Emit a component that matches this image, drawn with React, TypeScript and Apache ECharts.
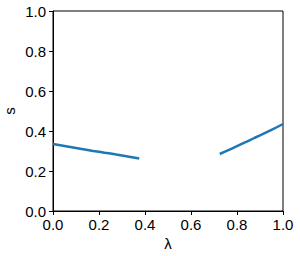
import React, { useEffect, useRef } from "react";
import * as echarts from "echarts";

const lambda1 = [0, 0.025, 0.05, 0.075, 0.1, 0.125, 0.15, 0.175, 0.2, 0.225, 0.25, 0.275, 0.3, 0.325, 0.35, 0.375];
const s1 = [0.335, 0.330, 0.325, 0.320, 0.315, 0.310, 0.305, 0.300, 0.296, 0.291, 0.287, 0.282, 0.278, 0.273, 0.268, 0.263];
const lambda2 = [0.725, 0.75, 0.775, 0.8, 0.825, 0.85, 0.875, 0.9, 0.925, 0.95, 0.975, 1.0];
const s2 = [0.285, 0.298, 0.311, 0.324, 0.338, 0.351, 0.365, 0.378, 0.392, 0.406, 0.420, 0.435];
const xTicks = { min: 0, max: 1, interval: 0.2 };
const yTicks = { min: 0, max: 1, interval: 0.2 };

export default function App() {
  const ref = useRef<HTMLDivElement>(null);
  useEffect(() => {
    if (!ref.current) return;
    const chart = echarts.init(ref.current, null, { renderer: "svg" });
    const font = "Liberation Sans";
    const data: any[] = [];
    lambda1.forEach((x, i) => data.push([x, s1[i]]));
    data.push([0.55, null]);
    lambda2.forEach((x, i) => data.push([x, s2[i]]));
    chart.setOption({
      animation: false,
      backgroundColor: "#fff",
      grid: { left: 53, right: 17, top: 11, bottom: 45, containLabel: false, outerBoundsMode: "none", show: true, borderColor: "#000", borderWidth: 1, backgroundColor: "transparent" },
      xAxis: {
        type: "value", ...xTicks,
        name: "λ", nameLocation: "middle", nameGap: 25, nameMoveOverlap: false,
        nameTextStyle: { fontFamily: font, fontSize: 15, color: "#000" },
        axisLine: { show: true, lineStyle: { color: "#000", width: 1 } },
        axisTick: { show: true, inside: false, length: 4, lineStyle: { color: "#000" } },
        axisLabel: { fontFamily: font, fontSize: 15, color: "#000", margin: 6, formatter: (v: number) => v.toFixed(1) },
        splitLine: { show: false },
      },
      yAxis: {
        type: "value", ...yTicks,
        name: "s", nameLocation: "middle", nameGap: 36, nameRotate: 90, nameMoveOverlap: false,
        nameTextStyle: { fontFamily: font, fontSize: 15, color: "#000" },
        axisLine: { show: true, lineStyle: { color: "#000", width: 1 } },
        axisTick: { show: true, inside: false, length: 4, lineStyle: { color: "#000" } },
        axisLabel: { fontFamily: font, fontSize: 15, color: "#000", margin: 7, formatter: (v: number) => v.toFixed(1) },
        splitLine: { show: false },
      },
      series: [{
        type: "line",
        data,
        connectNulls: false,
        showSymbol: false,
        lineStyle: { color: "#1f77b4", width: 2.5 },
        itemStyle: { color: "#1f77b4" },
      }],
    });
    return () => chart.dispose();
  }, []);
  return <div ref={ref} style={{ width: 300, height: 256, position: "absolute", left: 0, top: 0 }} />;
}
